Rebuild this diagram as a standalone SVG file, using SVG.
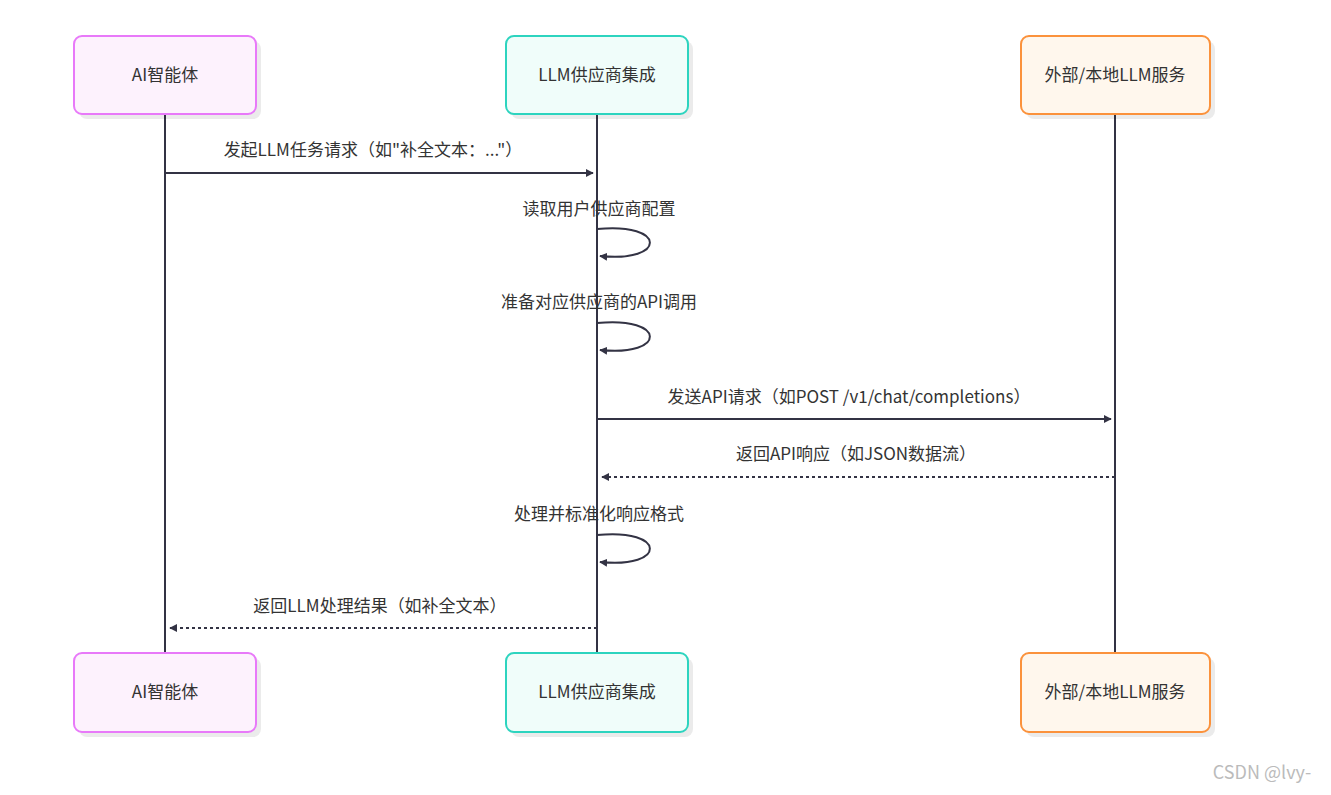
<svg xmlns="http://www.w3.org/2000/svg" width="1331" height="795" viewBox="0 0 1331 795">
<style>
text{font-family:"Noto Sans CJK SC","Noto Sans",sans-serif;font-size:17px;fill:#333;text-anchor:middle}
.life{stroke:#333344;stroke-width:2}
.msg{stroke:#333344;stroke-width:2;fill:none}
.dash{stroke-dasharray:3,3}
.sh{fill:#000;opacity:0.08}
</style>
<defs>
<marker id="ah" viewBox="0 0 10 10" refX="9" refY="5" markerWidth="8" markerHeight="8" orient="auto-start-reverse" markerUnits="userSpaceOnUse" ><path d="M0,0L10,5L0,10z" fill="#333344"/></marker>
</defs>
<rect width="1331" height="795" fill="#fff"/>
<g id="lifelines">
<line class="life" x1="165" y1="114" x2="165" y2="653"/>
<line class="life" x1="597" y1="114" x2="597" y2="653"/>
<line class="life" x1="1115" y1="114" x2="1115" y2="653"/>
</g>
<g id="a_top"><rect class="sh" x="79" y="41" width="182" height="78" rx="8"/><rect x="74" y="36" width="182" height="78" rx="8" fill="#fdf2fd" stroke="#e879f9" stroke-width="2"/><text x="165" y="81">AI智能体</text></g>
<g id="b_top"><rect class="sh" x="511" y="41" width="182" height="78" rx="8"/><rect x="506" y="36" width="182" height="78" rx="8" fill="#f0fdfa" stroke="#2dd4bf" stroke-width="2"/><text x="597" y="81">LLM供应商集成</text></g>
<g id="c_top"><rect class="sh" x="1026" y="41" width="189" height="78" rx="8"/><rect x="1021" y="36" width="189" height="78" rx="8" fill="#fff7ed" stroke="#fb923c" stroke-width="2"/><text x="1115" y="81">外部/本地LLM服务</text></g>
<g id="a_bot"><rect class="sh" x="79" y="658" width="182" height="79" rx="8"/><rect x="74" y="653" width="182" height="79" rx="8" fill="#fdf2fd" stroke="#e879f9" stroke-width="2"/><text x="165" y="698">AI智能体</text></g>
<g id="b_bot"><rect class="sh" x="511" y="658" width="182" height="79" rx="8"/><rect x="506" y="653" width="182" height="79" rx="8" fill="#f0fdfa" stroke="#2dd4bf" stroke-width="2"/><text x="597" y="698">LLM供应商集成</text></g>
<g id="c_bot"><rect class="sh" x="1026" y="658" width="189" height="79" rx="8"/><rect x="1021" y="653" width="189" height="79" rx="8" fill="#fff7ed" stroke="#fb923c" stroke-width="2"/><text x="1115" y="698">外部/本地LLM服务</text></g>
<g id="connectors">
<line class="msg" x1="165" y1="173" x2="593" y2="173" marker-end="url(#ah)"/>
<path class="msg" d="M597,229 C667,222 667,263 600,256" marker-end="url(#ah)"/>
<path class="msg" d="M597,323 C667,316 667,357 600,350" marker-end="url(#ah)"/>
<line class="msg" x1="597" y1="419" x2="1111" y2="419" marker-end="url(#ah)"/>
<line class="msg dash" x1="1115" y1="477" x2="602" y2="477" marker-end="url(#ah)"/>
<path class="msg" d="M597,535 C667,528 667,569 600,562" marker-end="url(#ah)"/>
<line class="msg dash" x1="597" y1="628" x2="170" y2="628" marker-end="url(#ah)"/>
</g>
<g id="labels">
<text x="373" y="156">发起LLM任务请求（如"补全文本：..."）</text>
<text x="599" y="215">读取用户供应商配置</text>
<text x="599" y="308">准备对应供应商的API调用</text>
<text x="849" y="403">发送API请求（如POST /v1/chat/completions）</text>
<text x="856" y="460">返回API响应（如JSON数据流）</text>
<text x="599" y="520">处理并标准化响应格式</text>
<text x="380" y="612">返回LLM处理结果（如补全文本）</text>
<text x="1262" y="779" style="fill:#bbb;font-size:18px">CSDN @lvy-</text>
</g>
</svg>
